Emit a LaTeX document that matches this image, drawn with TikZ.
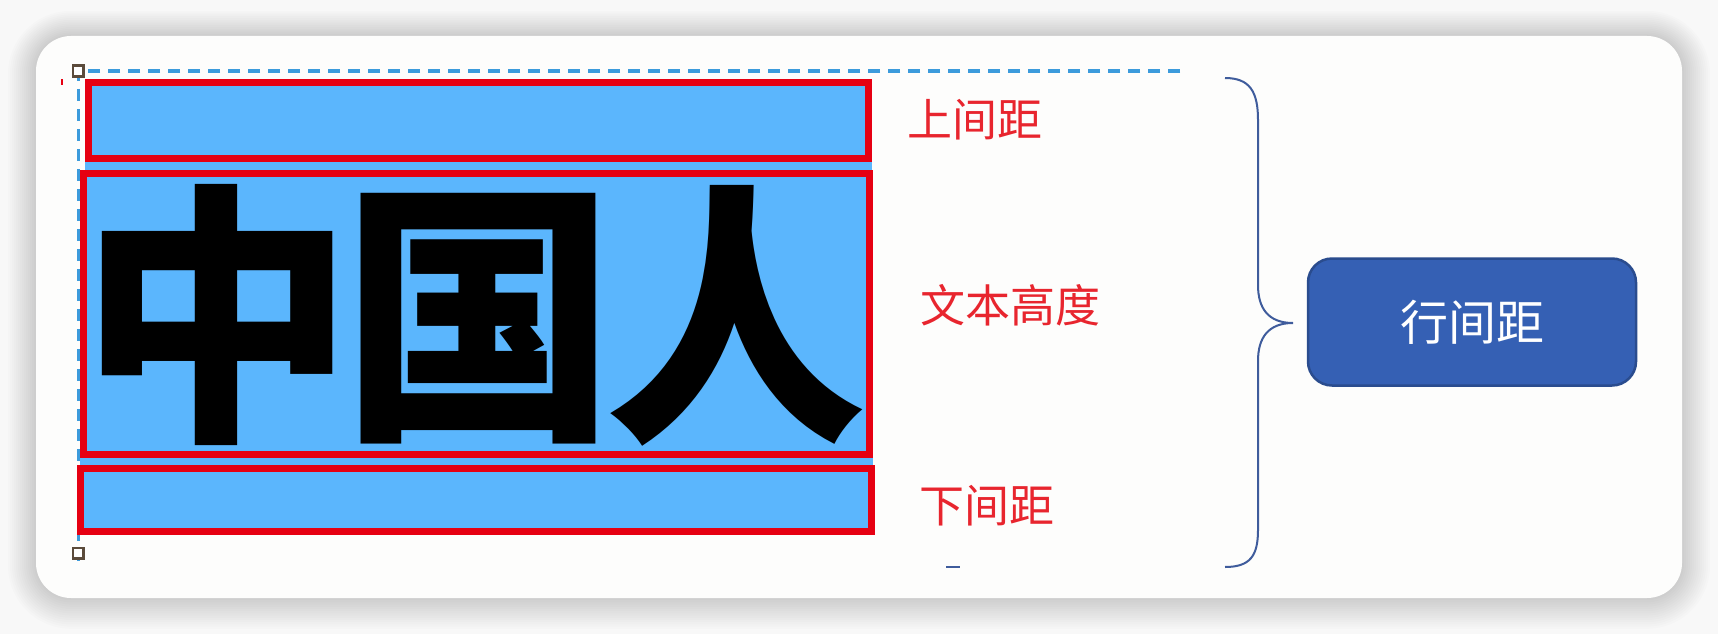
\documentclass[tikz,border=0pt]{standalone}
\usepackage{fontspec}
\usepackage{graphicx}
\newfontfamily\cjk{Noto Sans CJK SC}
\definecolor{boxred}{HTML}{E60012}
\definecolor{boxblue}{HTML}{5BB6FD}
\definecolor{lblred}{HTML}{E8252E}
\definecolor{btnblue}{HTML}{3560B4}
\definecolor{btnedge}{HTML}{2A4C8E}
\definecolor{bracecol}{HTML}{3F5C9C}
\definecolor{dashcol}{HTML}{3C9BDC}
\definecolor{handlecol}{HTML}{5B4B3B}
\definecolor{cardcol}{HTML}{FDFDFC}
\definecolor{pagecol}{HTML}{F8F8F8}
\begin{document}
\begin{tikzpicture}[x=1pt,y=-1pt,
  redbox/.style={draw=boxred, line width=7pt, fill=boxblue, inner sep=0pt, minimum width=#1},
  lbl/.style={text=lblred, font=\cjk\fontsize{45}{45}\selectfont, inner sep=0pt},
  bigch/.style={inner sep=0pt, font=\cjk\bfseries\fontsize{275}{275}\selectfont},
  handle/.style={draw=handlecol, line width=2.5pt, fill=white, minimum size=10.5pt, inner sep=0pt},
  guide/.style={draw=dashcol, line width=3pt, dash pattern=on 12pt off 8pt}]
\useasboundingbox (0,0) rectangle (1718,634);
\fill[pagecol] (0,0) rectangle (1718,634);
% shadow
\foreach \i in {1,...,14}{
  \fill[black, opacity=0.011, rounded corners={35pt+\i*2pt}]
    ({36-\i*2},{36-\i*1.8}) rectangle ({1682+\i*2},{598+\i*2.2});
}
\fill[cardcol, rounded corners=35pt] (36,36) rectangle (1682,598);
% guides
\coordinate (gtl) at (78,71);
\coordinate (gtr) at (1180,71);
\coordinate (gbl) at (78,563);
\draw[guide] (gtr) -- (gtl) -- (gbl);
% blue strips
\fill[boxblue] (85,160) rectangle (872,172);
\fill[boxblue] (80,456) rectangle (873,467);
% boxes
\node[redbox=780pt, minimum height=76pt] (top) at (478.5,120.5) {};
\node[redbox=786pt, minimum height=281pt] (mid) at (476.5,314) {};
\node[redbox=791pt, minimum height=63pt] (bot) at (476,500) {};
\node[bigch] (c1) at (217,315) {中};
\node[bigch] (c2) at (479,319) {国};
\node[bigch] (c3) at (736,316) {\scalebox{0.95}[1]{人}};
% handles
\node[handle] (h1) at (78,71) {};
\node[handle] (h2) at (78,553) {};
% artifacts
\draw[boxred, line width=2pt] (62,79) -- (62,85);
\draw[bracecol, line width=2.5pt] (946,567) -- (960,567);
% labels
\node[lbl] (l1) at (975,120) {上间距};
\node[lbl] (l2) at (1010,305) {文本高度};
\node[lbl] (l3) at (987,506) {下间距};
% brace
\coordinate (b1) at (1225,78);
\coordinate (b2) at (1293,323);
\coordinate (b3) at (1225,567);
\draw[bracecol, line width=2pt] (b1) .. controls (1250,78) and (1258,92) .. (1258,120) -- (1258,285)
  .. controls (1258,308) and (1268,323) .. (b2)
  .. controls (1268,323) and (1258,338) .. (1258,361) -- (1258,530)
  .. controls (1258,556) and (1250,567) .. (b3);
% button
\node[draw=btnedge, line width=2.5pt, fill=btnblue, rounded corners=24pt, minimum width=328pt, minimum height=127pt, text=white, font=\cjk\fontsize{48}{48}\selectfont] (btn) at (1472,322) {行间距};
\end{tikzpicture}
\end{document}
